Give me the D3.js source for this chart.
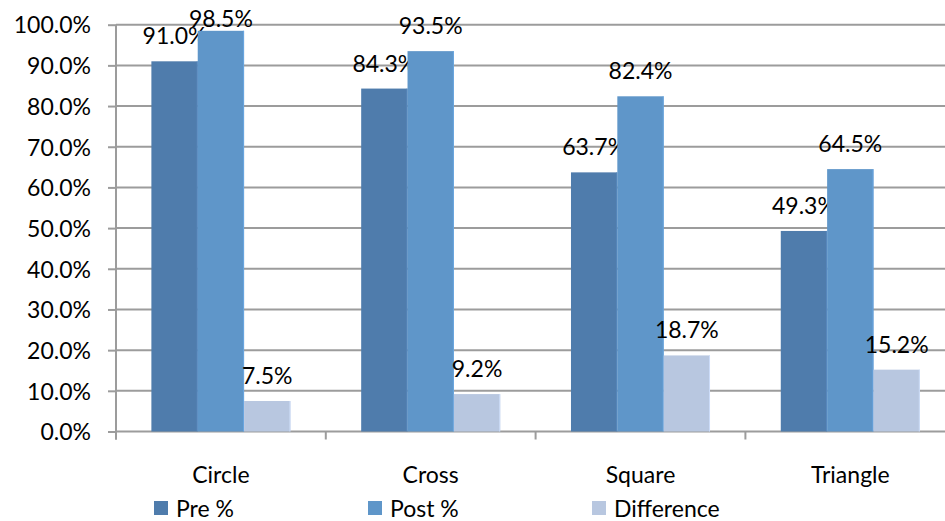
<!DOCTYPE html>
<html>
<head>
<meta charset="utf-8">
<script src="https://cdn.jsdelivr.net/npm/d3@7"></script>
<style>
  html, body { margin: 0; padding: 0; background: #fff; }
  svg { display: block; }
  text { font-family: Lato, "Open Sans", sans-serif; fill: #000; }
</style>
</head>
<body>
<svg id="chart" width="945" height="521"></svg>
<script>
const categories = ["Circle", "Cross", "Square", "Triangle"];
const seriesNames = ["Pre %", "Post %", "Difference"];
const preValues = [91.0, 84.3, 63.7, 49.3];
const postValues = [98.5, 93.5, 82.4, 64.5];
const diffValues = [7.5, 9.2, 18.7, 15.2];
const yTicks = [0, 10, 20, 30, 40, 50, 60, 70, 80, 90, 100];
const colors = ["#4F7CAC", "#5F96C9", "#B8C7E0"];

const series = [preValues, postValues, diffValues];
const W = 945, H = 521;
const svg = d3.select("#chart");
const fontSize = 23;

const plotLeft = 116, plotTop = 24.7, plotBottom = 431.5;
const bandW = 209.8;
const x = d3.scaleBand().domain(categories).range([plotLeft, plotLeft + bandW * categories.length]).paddingInner(0).paddingOuter(0);
const inner = d3.scaleBand().domain(seriesNames).range([0, bandW]).paddingOuter(35.5 / 46.5).paddingInner(0);
const y = d3.scaleLinear().domain([0, 100]).range([plotBottom, plotTop]);

// gridlines
svg.append("g").selectAll("line").data(yTicks).join("line")
  .attr("x1", plotLeft).attr("x2", W)
  .attr("y1", d => y(d)).attr("y2", d => y(d))
  .attr("stroke", "#9c9c9c").attr("stroke-width", 2);

// y axis
const yAxis = d3.axisLeft(y).tickValues(yTicks).tickSize(8).tickPadding(17)
  .tickFormat(d => d.toFixed(1) + "%");
const gy = svg.append("g").attr("transform", `translate(${plotLeft},0)`).call(yAxis);
gy.select(".domain").remove();
gy.selectAll(".tick line").attr("stroke", "#9c9c9c").attr("stroke-width", 2);
gy.selectAll(".tick text").attr("font-size", fontSize).attr("font-family", "Lato").attr("fill", "#000").attr("dy", "0.36em");
svg.append("line").attr("x1", plotLeft).attr("x2", plotLeft).attr("y1", plotTop).attr("y2", plotBottom + 8)
  .attr("stroke", "#9c9c9c").attr("stroke-width", 2);

// x axis
const xAxis = d3.axisBottom(x).tickSize(0).tickPadding(35);
const gx = svg.append("g").attr("transform", `translate(0,${plotBottom})`).call(xAxis);
gx.select(".domain").remove();
gx.selectAll(".tick text").attr("font-size", fontSize).attr("font-family", "Lato").attr("fill", "#000");
const bounds = categories.map(c => x(c)).concat([x(categories[categories.length - 1]) + bandW]);
svg.append("g").selectAll("line").data(bounds).join("line")
  .attr("x1", d => d).attr("x2", d => d)
  .attr("y1", plotBottom).attr("y2", plotBottom + 8)
  .attr("stroke", "#9c9c9c").attr("stroke-width", 2);

// bars
const groups = svg.append("g").selectAll("g").data(categories).join("g")
  .attr("transform", c => `translate(${x(c)},0)`);
groups.each(function(c, ci) {
  const g = d3.select(this);
  seriesNames.forEach((s, si) => {
    const v = series[si][ci];
    g.append("rect")
      .attr("x", inner(s)).attr("width", inner.bandwidth())
      .attr("y", y(v)).attr("height", plotBottom - y(v))
      .attr("fill", colors[si]);
    g.append("line")
      .attr("x1", inner(s) + inner.bandwidth() - 0.5).attr("x2", inner(s) + inner.bandwidth() - 0.5)
      .attr("y1", y(v)).attr("y2", plotBottom)
      .attr("stroke", d3.color(colors[si]).brighter(0.3)).attr("stroke-width", 1);
    g.append("text")
      .attr("x", inner(s) + inner.bandwidth() / 2)
      .attr("y", Math.max(y(v) - 17, 27))
      .attr("text-anchor", "middle")
      .attr("font-size", fontSize)
      .text(v.toFixed(1) + "%");
  });
});

// legend
const legendX = [154, 368, 592];
const leg = svg.append("g").selectAll("g").data(seriesNames).join("g")
  .attr("transform", (d, i) => `translate(${legendX[i]},501)`);
leg.append("rect").attr("width", 14).attr("height", 14).attr("fill", (d, i) => colors[i]);
leg.append("text").attr("x", 22).attr("y", 16).attr("font-size", fontSize).text(d => d);
</script>
</body>
</html>
